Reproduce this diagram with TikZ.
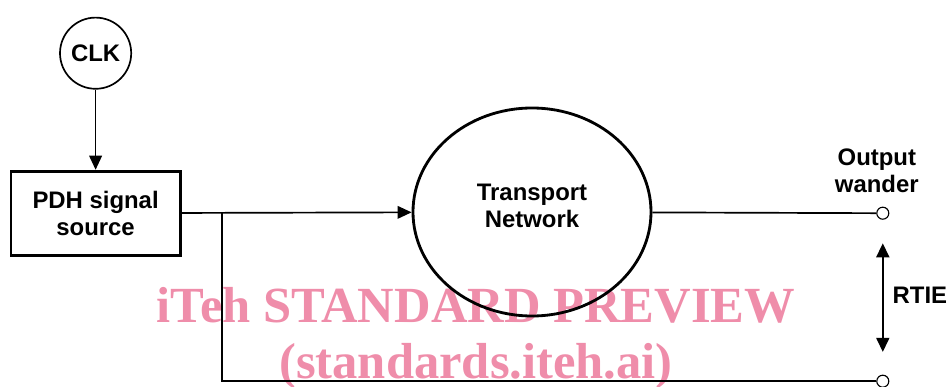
\documentclass[tikz,border=0pt]{standalone}
\usepackage{fontspec}
\setmainfont{Liberation Sans}
\newfontfamily\wmfont{Liberation Serif}
\usetikzlibrary{arrows.meta,shapes.geometric,positioning}
\definecolor{wmpink}{RGB}{239,141,170}

\begin{document}
\begin{tikzpicture}[>={Triangle[length=10pt,width=9pt]},
  lbl/.style={font=\bfseries\fontsize{17}{19}\selectfont, align=center},
  port/.style={circle, draw, line width=0.8pt, fill=white, inner sep=0pt, minimum size=0.3cm},
  wire/.style={line width=1.2pt}]
\useasboundingbox (0,0) rectangle (23.75,-9.675);
\node[wmpink, font=\wmfont\bfseries\fontsize{36}{36}\selectfont, anchor=base] (wm1) at (11.9,-8.075) {iTeh STANDARD PREVIEW};
\node[wmpink, font=\wmfont\bfseries\fontsize{36}{36}\selectfont, anchor=base] (wm2) at (11.9,-9.45) {(standards.iteh.ai)};
\node[lbl, circle, draw, line width=1.2pt, minimum size=1.78cm, inner sep=0pt] (clk) at (2.39,-1.33) {CLK};
\node[lbl, draw, line width=2pt, minimum width=4.23cm, minimum height=2.1cm] (src) at (2.39,-5.33) {PDH signal\\source};
\node[ellipse, draw, line width=2pt, minimum width=5.95cm, minimum height=5.2cm] (tn) at (13.3,-5.3) {};
\node[lbl] (tnlbl) at ([yshift=0.16cm]tn.center) {Transport\\Network};
\node[port] (out) at (22.07,-5.33) {};
\node[port] (ref) at (22.07,-9.53) {};
\node[lbl, anchor=south] (ow) at ([xshift=-0.15cm,yshift=0.22cm]out.north) {Output\\wander};
\coordinate (junc) at (5.55,-5.33);
\coordinate (rtop) at (22.07,-6.08);
\coordinate (rbot) at (22.07,-8.8);
\node[lbl, anchor=west, inner sep=0pt] (rtie) at (22.31,-7.38) {RTIE};
\draw[->, wire] (clk) -- (src);
\draw[->, wire] (src) -- (tn);
\draw[wire] (junc) |- (ref);
\draw[wire] (tn) -- (out);
\draw[<->, line width=1.8pt] (rtop) -- (rbot);
\end{tikzpicture}
\end{document}
